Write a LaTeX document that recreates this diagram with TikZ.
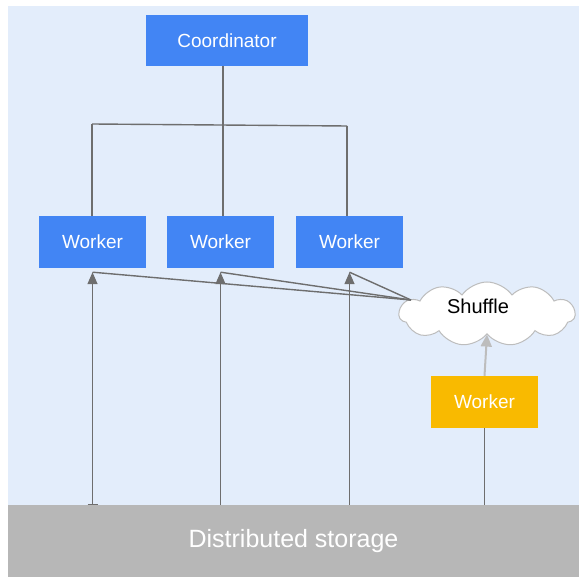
\documentclass[tikz,border=0pt]{standalone}
\usepackage{fontspec}
\setmainfont{Liberation Sans}
\usetikzlibrary{shapes.symbols,arrows.meta}
\definecolor{bgblue}{HTML}{E3EDFB}
\definecolor{gblue}{HTML}{4285F4}
\definecolor{gyellow}{HTML}{F9BA00}
\definecolor{stgray}{HTML}{B7B7B7}
\definecolor{lnk}{HTML}{6E6E6E}
\definecolor{lgray}{HTML}{BDBDBD}
\tikzset{
  box/.style={rectangle, inner sep=0pt, minimum width=107pt, minimum height=52pt, text=white, font=\fontsize{19}{22}\selectfont},
  bluebox/.style={box, fill=gblue},
  yellowbox/.style={box, fill=gyellow},
  conn/.style={draw=lnk, line width=1.4pt},
  arr/.style={conn, -{Triangle[length=12pt,width=10pt]}},
  lightarr/.style={draw=lgray, line width=2pt, -{Triangle[length=12pt,width=11pt]}},
  cloudnode/.style={cloud, cloud puffs=11, cloud puff arc=110, aspect=2.7, draw=lgray, line width=1pt, fill=white, minimum width=176pt, minimum height=64pt, inner sep=0pt, font=\fontsize{20}{24}\selectfont}
}
\begin{document}
\begin{tikzpicture}[x=1pt,y=-1pt]
\useasboundingbox (0,0) rectangle (579,577);
\fill[white] (0,0) rectangle (579,577);
\fill[bgblue] (8,6) rectangle (579,577);
\node[fill=stgray, inner sep=0pt, minimum width=571pt, minimum height=72pt, text=white, font=\fontsize{25}{30}\selectfont] (storage) at (293.5,541) {Distributed storage};
\node[bluebox, minimum width=162pt, minimum height=51pt] (coord) at (227,40.5) {Coordinator};
\node[bluebox] (w1) at (92.5,242) {Worker};
\node[bluebox] (w2) at (220.5,242) {Worker};
\node[bluebox] (w3) at (349.5,242) {Worker};
\node[yellowbox] (yw) at (484.5,402) {Worker};
\node[cloudnode] (shuffle) at (487,314) {\hspace*{-18pt}\raisebox{15pt}{Shuffle}};
\coordinate (bl) at (92,124);
\coordinate (bm) at (223,125);
\coordinate (br) at (347,126);
\coordinate (sh) at (411,300);
\coordinate (t1) at ([yshift=-4pt]w1.south);
\coordinate (t2) at ([yshift=-4pt]w2.south);
\coordinate (t3) at ([yshift=-4pt]w3.south);
% coordinator tree
\draw[conn] (coord.south -| bm) -- (w2.north -| bm);
\draw[conn] (bl) -- (br);
\draw[conn] (bl) -- (w1.north -| bl);
\draw[conn] (br) -- (w3.north -| br);
% shuffle to workers
\draw[conn] (sh) -- (t1);
\draw[conn] (sh) -- (t2);
\draw[conn] (sh) -- (t3);
% storage to workers
\draw[arr] (storage.north -| w1) -- (t1);
\draw[arr] (storage.north -| w2) -- (t2);
\draw[arr] (storage.north -| w3) -- (t3);
\draw[conn] ([xshift=-5pt]storage.north -| w1) -- ([xshift=5pt]storage.north -| w1);
% yellow worker
\draw[conn] (storage.north -| yw) -- (yw.south);
\draw[lightarr] (yw.north) -- (shuffle.south);
\end{tikzpicture}
\end{document}
